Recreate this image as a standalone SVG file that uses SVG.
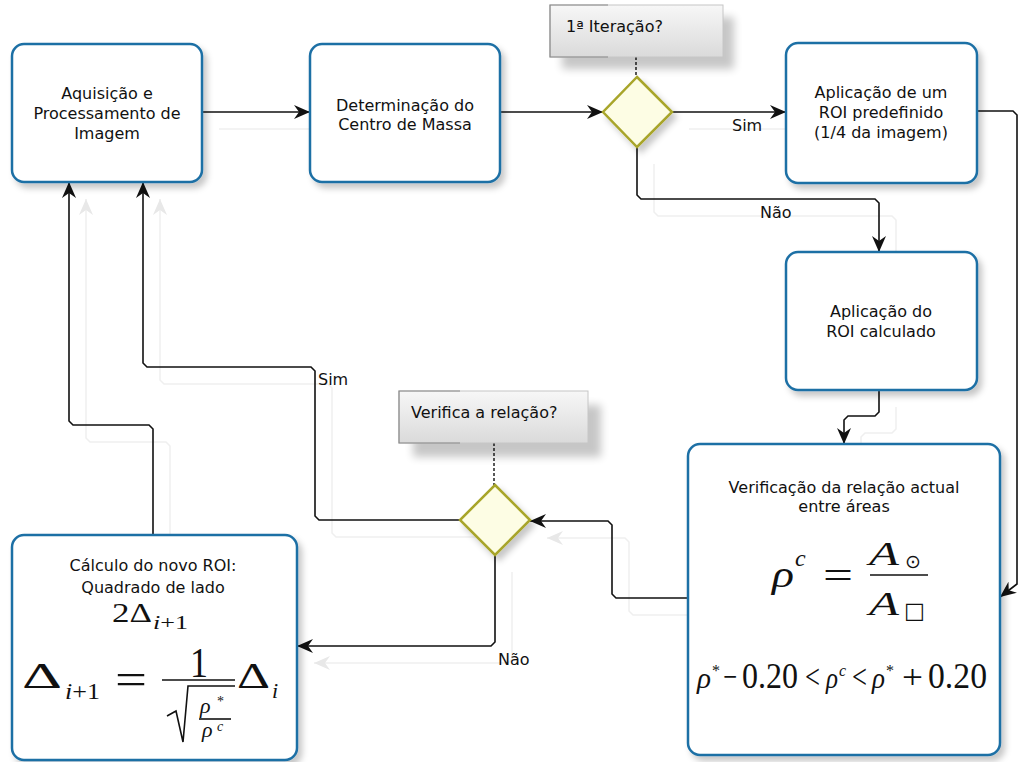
<svg xmlns="http://www.w3.org/2000/svg" width="1019" height="762" viewBox="0 0 1019 762">
<defs>
<style>
.box{fill:#fff;stroke:#1e6fa5;stroke-width:2.5}
.dia{fill:#fdfde4;stroke:#a8a52a;stroke-width:2.5}
.t{font-family:"DejaVu Sans","Liberation Sans",sans-serif;font-size:16px;fill:#111;text-anchor:middle}
.lbl{font-family:"DejaVu Sans","Liberation Sans",sans-serif;font-size:16px;fill:#111}
.m{font-family:"Liberation Serif","DejaVu Serif",serif;fill:#111}
.sym{font-family:"DejaVu Sans",sans-serif;fill:#111}
.mi{font-style:italic}
.call{fill:url(#cg);stroke:#c6c6c6;stroke-width:1}
.callb{fill:none;stroke:#8a8a8a;stroke-width:1.2}
.cshadow{fill:#000;opacity:0.22}
.dash{stroke:#222;stroke-width:1.5;stroke-dasharray:3 2;fill:none}
.ln{stroke:#111;stroke-width:1.6;fill:none}
</style>
<linearGradient id="cg" x1="0" y1="0" x2="0" y2="1">
<stop offset="0" stop-color="#f7f7f7"/><stop offset="1" stop-color="#dadada"/>
</linearGradient>
<filter id="sh" x="-20%" y="-20%" width="150%" height="150%">
<feDropShadow dx="4" dy="5" stdDeviation="3" flood-color="#000" flood-opacity="0.22"/>
</filter>
<filter id="blur" x="-30%" y="-30%" width="160%" height="160%">
<feGaussianBlur stdDeviation="4"/>
</filter>
<marker id="arr" viewBox="0 0 16 14" refX="16" refY="7" markerWidth="16" markerHeight="14" markerUnits="userSpaceOnUse" orient="auto">
<path d="M0,0 L16,7 L0,14 L5,7 Z" fill="#111"/>
</marker>
<marker id="arrg" viewBox="0 0 16 14" refX="16" refY="7" markerWidth="16" markerHeight="14" markerUnits="userSpaceOnUse" orient="auto">
<path d="M0,0 L16,7 L0,14 L5,7 Z" fill="#e8e8e8"/>
</marker>
</defs>
<rect width="1019" height="762" fill="#fff"/>

<!-- ghost connectors (faint offset copies) -->
<g id="ghosts" fill="none" stroke="#efefef" stroke-width="1.5" marker-end="url(#arrg)" transform="translate(17,17)">
<use href="#c1"/><use href="#c3"/><use href="#c4"/><use href="#c6"/><use href="#c7"/><use href="#c8"/><use href="#c9"/><use href="#c10"/>
</g>

<!-- connectors -->
<g id="connectors" fill="none" stroke="#111" stroke-width="1.6" marker-end="url(#arr)">
<path id="c1" d="M202,112 L310,112"/>
<path id="c2" d="M500,112 L603,112"/>
<path id="c3" d="M672,112 L786,112"/>
<path id="c4" d="M637,147 L637,195 L641,199 L875,199 L879,203 L879,252"/>
<path id="c5" d="M977,111 L1013,111 L1017,115 L1017,584 L1000,597"/>
<path id="c6" d="M879,390 L879,412 L875,416 L848,416 L844,420 L844,444"/>
<path id="c7" d="M688,598 L616,598 L612,594 L612,525 L608,521 L530,521"/>
<path id="c8" d="M460,520 L319,520 L315,516 L315,371 L311,367 L147,367 L143,363 L143,182"/>
<path id="c9" d="M495,555 L495,642 L491,646 L297,646"/>
<path id="c10" d="M153,535 L153,429 L149,425 L73,425 L69,421 L69,182"/>
<path class="dash" marker-end="none" d="M636,57 L636,77"/>
<path class="dash" marker-end="none" d="M494,443 L494,485"/>
<text class="lbl" x="732" y="131" stroke="none">Sim</text>
<text class="lbl" x="760" y="218" stroke="none">Não</text>
<text class="lbl" x="318" y="385" stroke="none">Sim</text>
<text class="lbl" x="498" y="665" stroke="none">Não</text>
</g>

<!-- nodes -->
<g id="n1">
<rect class="box" filter="url(#sh)" x="12" y="44" width="190" height="138" rx="12"/>
<text class="t" x="107" y="99">Aquisição e</text>
<text class="t" x="107" y="119">Processamento de</text>
<text class="t" x="107" y="139">Imagem</text>
</g>
<g id="n2">
<rect class="box" filter="url(#sh)" x="310" y="44" width="190" height="138" rx="12"/>
<text class="t" x="405" y="111">Determinação do</text>
<text class="t" x="405" y="130">Centro de Massa</text>
</g>
<g id="d1">
<path class="dia" filter="url(#sh)" d="M637,77 L672,112 L637,147 L603,112 Z"/>
</g>
<g id="q1">
<rect class="cshadow" filter="url(#blur)" x="562" y="17" width="172" height="52"/>
<rect class="call" x="550" y="5" width="173" height="52"/>
<path class="callb" d="M608,5 L550,5 L550,57 L608,57"/>
<text class="lbl" x="566" y="32">1ª Iteração?</text>
</g>
<g id="n3">
<rect class="box" filter="url(#sh)" x="786" y="43" width="191" height="140" rx="12"/>
<text class="t" x="881" y="98">Aplicação de um</text>
<text class="t" x="881" y="118">ROI predefinido</text>
<text class="t" x="881" y="138">(1/4 da imagem)</text>
</g>
<g id="n4">
<rect class="box" filter="url(#sh)" x="786" y="252" width="191" height="138" rx="12"/>
<text class="t" x="881" y="317">Aplicação do</text>
<text class="t" x="881" y="337">ROI calculado</text>
</g>
<g id="n5">
<rect class="box" filter="url(#sh)" x="688" y="444" width="312" height="311" rx="12"/>
<text class="t" x="844" y="493">Verificação da relação actual</text>
<text class="t" x="844" y="512">entre áreas</text>
<text class="m mi" x="772" y="587" font-size="38" textLength="22" lengthAdjust="spacingAndGlyphs">ρ</text>
<text class="m mi" x="795" y="566" font-size="24">c</text>
<text class="m" x="823" y="589" font-size="40" textLength="30" lengthAdjust="spacingAndGlyphs">=</text>
<text class="m mi" x="869" y="565" font-size="34" textLength="30" lengthAdjust="spacingAndGlyphs">A</text>
<text class="sym" x="905" y="568" font-size="19">⊙</text>
<line class="ln" x1="870" y1="575" x2="928" y2="575"/>
<text class="m mi" x="869" y="615" font-size="34" textLength="30" lengthAdjust="spacingAndGlyphs">A</text>
<text class="sym" x="904" y="618" font-size="22">□</text>
<text class="m mi" x="697" y="688" font-size="30" textLength="14" lengthAdjust="spacingAndGlyphs">ρ</text>
<text class="m" x="712" y="676" font-size="16">*</text>
<text class="m" x="723" y="688" font-size="34" textLength="14" lengthAdjust="spacingAndGlyphs">−</text>
<text class="m" x="742" y="688" font-size="36" textLength="56" lengthAdjust="spacingAndGlyphs">0.20</text>
<text class="m" x="805" y="688" font-size="34" textLength="15" lengthAdjust="spacingAndGlyphs">&lt;</text>
<text class="m mi" x="826" y="688" font-size="30" textLength="12" lengthAdjust="spacingAndGlyphs">ρ</text>
<text class="m mi" x="839" y="676" font-size="16">c</text>
<text class="m" x="852" y="688" font-size="34" textLength="15" lengthAdjust="spacingAndGlyphs">&lt;</text>
<text class="m mi" x="872" y="688" font-size="30" textLength="13" lengthAdjust="spacingAndGlyphs">ρ</text>
<text class="m" x="886" y="676" font-size="16">*</text>
<text class="m" x="902" y="688" font-size="34" textLength="21" lengthAdjust="spacingAndGlyphs">+</text>
<text class="m" x="928" y="688" font-size="36" textLength="59" lengthAdjust="spacingAndGlyphs">0.20</text>
</g>
<g id="d2">
<path class="dia" filter="url(#sh)" d="M495,485 L530,520 L495,555 L460,520 Z"/>
</g>
<g id="q2">
<rect class="cshadow" filter="url(#blur)" x="413" y="405" width="188" height="52"/>
<rect class="call" x="399" y="391" width="189" height="52"/>
<path class="callb" d="M460,391 L399,391 L399,443 L460,443"/>
<text class="lbl" x="411" y="418">Verifica a relação?</text>
</g>
<g id="n6">
<rect class="box" filter="url(#sh)" x="12" y="535" width="285" height="225" rx="12"/>
<text class="t" x="153" y="571">Cálculo do novo ROI:</text>
<text class="t" x="153" y="593">Quadrado de lado</text>
<text class="m" x="112" y="622" font-size="28" textLength="40" lengthAdjust="spacingAndGlyphs">2Δ</text>
<text class="m" x="153" y="629" font-size="18" textLength="35" lengthAdjust="spacingAndGlyphs"><tspan class="mi">i</tspan>+1</text>
<text class="m" x="22" y="688" font-size="36" textLength="40" lengthAdjust="spacingAndGlyphs">Δ</text>
<text class="m" x="65" y="699" font-size="24" textLength="35" lengthAdjust="spacingAndGlyphs"><tspan class="mi">i</tspan>+1</text>
<text class="m" x="115" y="694" font-size="44" textLength="32" lengthAdjust="spacingAndGlyphs">=</text>
<text class="m" x="190" y="677" font-size="42" textLength="18" lengthAdjust="spacingAndGlyphs">1</text>
<line class="ln" x1="162" y1="680" x2="235" y2="680"/>
<path class="ln" d="M167,716 L176,711 L183,742 L188,686 L235,686"/>
<text class="m mi" x="200" y="713" font-size="22">ρ</text>
<text class="m" x="217" y="706" font-size="14">*</text>
<line class="ln" x1="199" y1="719" x2="231" y2="719" stroke-width="1.2"/>
<text class="m mi" x="202" y="737" font-size="22">ρ</text>
<text class="m mi" x="217" y="731" font-size="14">c</text>
<text class="m" x="237" y="688" font-size="36" textLength="33" lengthAdjust="spacingAndGlyphs">Δ</text>
<text class="m mi" x="272" y="698" font-size="22">i</text>
</g>
</svg>
